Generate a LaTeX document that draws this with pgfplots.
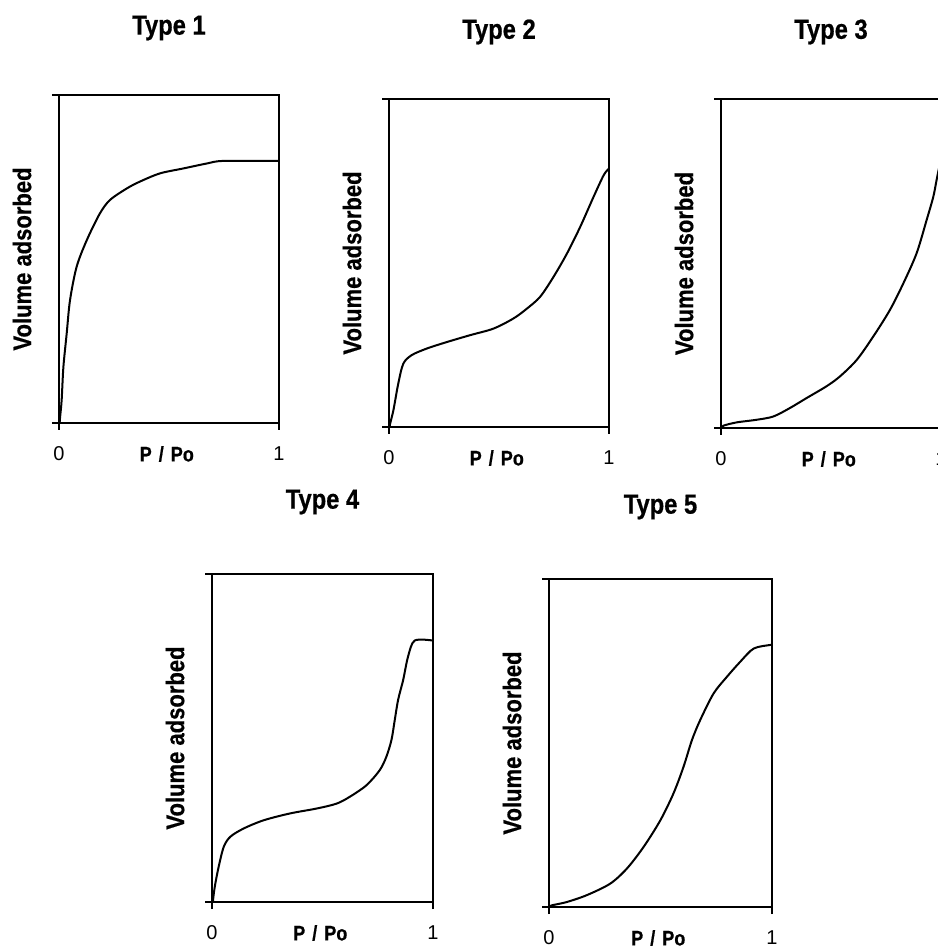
\documentclass[border=0pt]{standalone}
\usepackage{fontspec}
\setmainfont{Liberation Sans}
\newfontfamily\cond{Liberation Sans}[FakeStretch=0.86, FakeBold=0.6]
\usepackage{pgfplots}
\pgfplotsset{compat=1.18}

% 1 px of the reference = 0.5pt
\pgfplotsset{
  iso/.style={
    scale only axis,
    anchor=south west,
    xmin=0, xmax=1, ymin=0, ymax=1,
    axis line style={line width=1pt},
    xtick={0,1}, ytick={0,1},
    xticklabels={0,1}, yticklabels={,},
    tick align=outside, major tick length=3.5pt,
    every tick/.style={black, line width=0.8pt},
    xtick pos=bottom, ytick pos=left,
    /pgf/number format/assume math mode=true,
    xticklabel style={font=\fontsize{10}{12}\selectfont, anchor=center, yshift=-12pt},
    xlabel={P\,\,/\,\,Po},
    ylabel={Volume adsorbed},
    xlabel style={font=\cond\bfseries\fontsize{10.5}{12}\selectfont, at={(axis description cs:0.49,0)}, anchor=center, yshift=-15.5pt},
    ylabel style={font=\cond\bfseries\fontsize{12.8}{14}\selectfont, at={(axis description cs:0,0.5)}, anchor=center, yshift=18.5pt},
    title style={font=\cond\bfseries\fontsize{13.8}{16}\selectfont, at={(axis description cs:0.5,1)}, anchor=center, yshift=27.5pt},
  },
  isoline/.style={black, line width=1pt, no marks, smooth, tension=0.5},
}

\begin{document}
\begin{tikzpicture}
\useasboundingbox (0,0) rectangle (468.5pt,473pt);

% Type 1
\begin{axis}[iso, at={(29.5pt,261.5pt)}, width=110pt, height=164pt, title={Type 1}]
\addplot[isoline] coordinates {
 (0.003,0.0) (0.005,0.018) (0.012,0.069) (0.020,0.171) (0.035,0.273)
 (0.050,0.374) (0.080,0.476) (0.126,0.557) (0.186,0.639) (0.232,0.680)
 (0.308,0.715) (0.368,0.736) (0.459,0.761) (0.565,0.776) (0.671,0.791)
 (0.747,0.799) (1.0,0.799)
};
\end{axis}

% Type 2
\begin{axis}[iso, at={(194.5pt,259.5pt)}, width=110pt, height=164pt, title={Type 2}]
\addplot[isoline] coordinates {
 (0.003,0.0) (0.005,0.010) (0.020,0.051) (0.042,0.132) (0.065,0.193)
 (0.103,0.219) (0.171,0.239) (0.263,0.259) (0.369,0.280) (0.475,0.300)
 (0.566,0.331) (0.627,0.361) (0.687,0.397) (0.748,0.458) (0.809,0.529)
 (0.869,0.610) (0.930,0.702) (0.976,0.768) (1.0,0.788)
};
\end{axis}

% Type 3
\begin{axis}[iso, at={(360.5pt,259pt)}, width=110pt, height=164.5pt, title={Type 3}]
\addplot[isoline] coordinates {
 (0.005,0.0) (0.011,0.007) (0.071,0.017) (0.162,0.025) (0.238,0.035)
 (0.314,0.061) (0.389,0.091) (0.480,0.127) (0.541,0.157) (0.617,0.207)
 (0.692,0.278) (0.768,0.359) (0.829,0.440) (0.889,0.531) (0.935,0.633)
 (0.965,0.703) (0.980,0.754) (1.0,0.82)
};
\end{axis}

% Type 4
\begin{axis}[iso, at={(106pt,22pt)}, width=110.5pt, height=164pt, title={Type 4}, title style={yshift=2.5pt}]
\addplot[isoline] coordinates {
 (0.004,0.0) (0.008,0.025) (0.015,0.056) (0.030,0.107) (0.053,0.168)
 (0.083,0.199) (0.143,0.224) (0.233,0.249) (0.353,0.270) (0.474,0.285)
 (0.564,0.300) (0.624,0.321) (0.699,0.356) (0.759,0.402) (0.789,0.443)
 (0.812,0.494) (0.827,0.555) (0.842,0.616) (0.865,0.677) (0.887,0.748)
 (0.917,0.797) (1.0,0.797)
};
\end{axis}

% Type 5
\begin{axis}[iso, at={(274.5pt,19.5pt)}, width=111.5pt, height=164pt, title={Type 5}, title style={yshift=2.5pt}]
\addplot[isoline] coordinates {
 (0.0,0.0) (0.012,0.005) (0.079,0.015) (0.169,0.036) (0.274,0.071)
 (0.349,0.117) (0.424,0.183) (0.499,0.264) (0.558,0.346) (0.603,0.427)
 (0.641,0.509) (0.678,0.570) (0.738,0.651) (0.798,0.702) (0.858,0.748)
 (0.918,0.788) (0.993,0.799) (1.0,0.799)
};
\end{axis}
\end{tikzpicture}
\end{document}
